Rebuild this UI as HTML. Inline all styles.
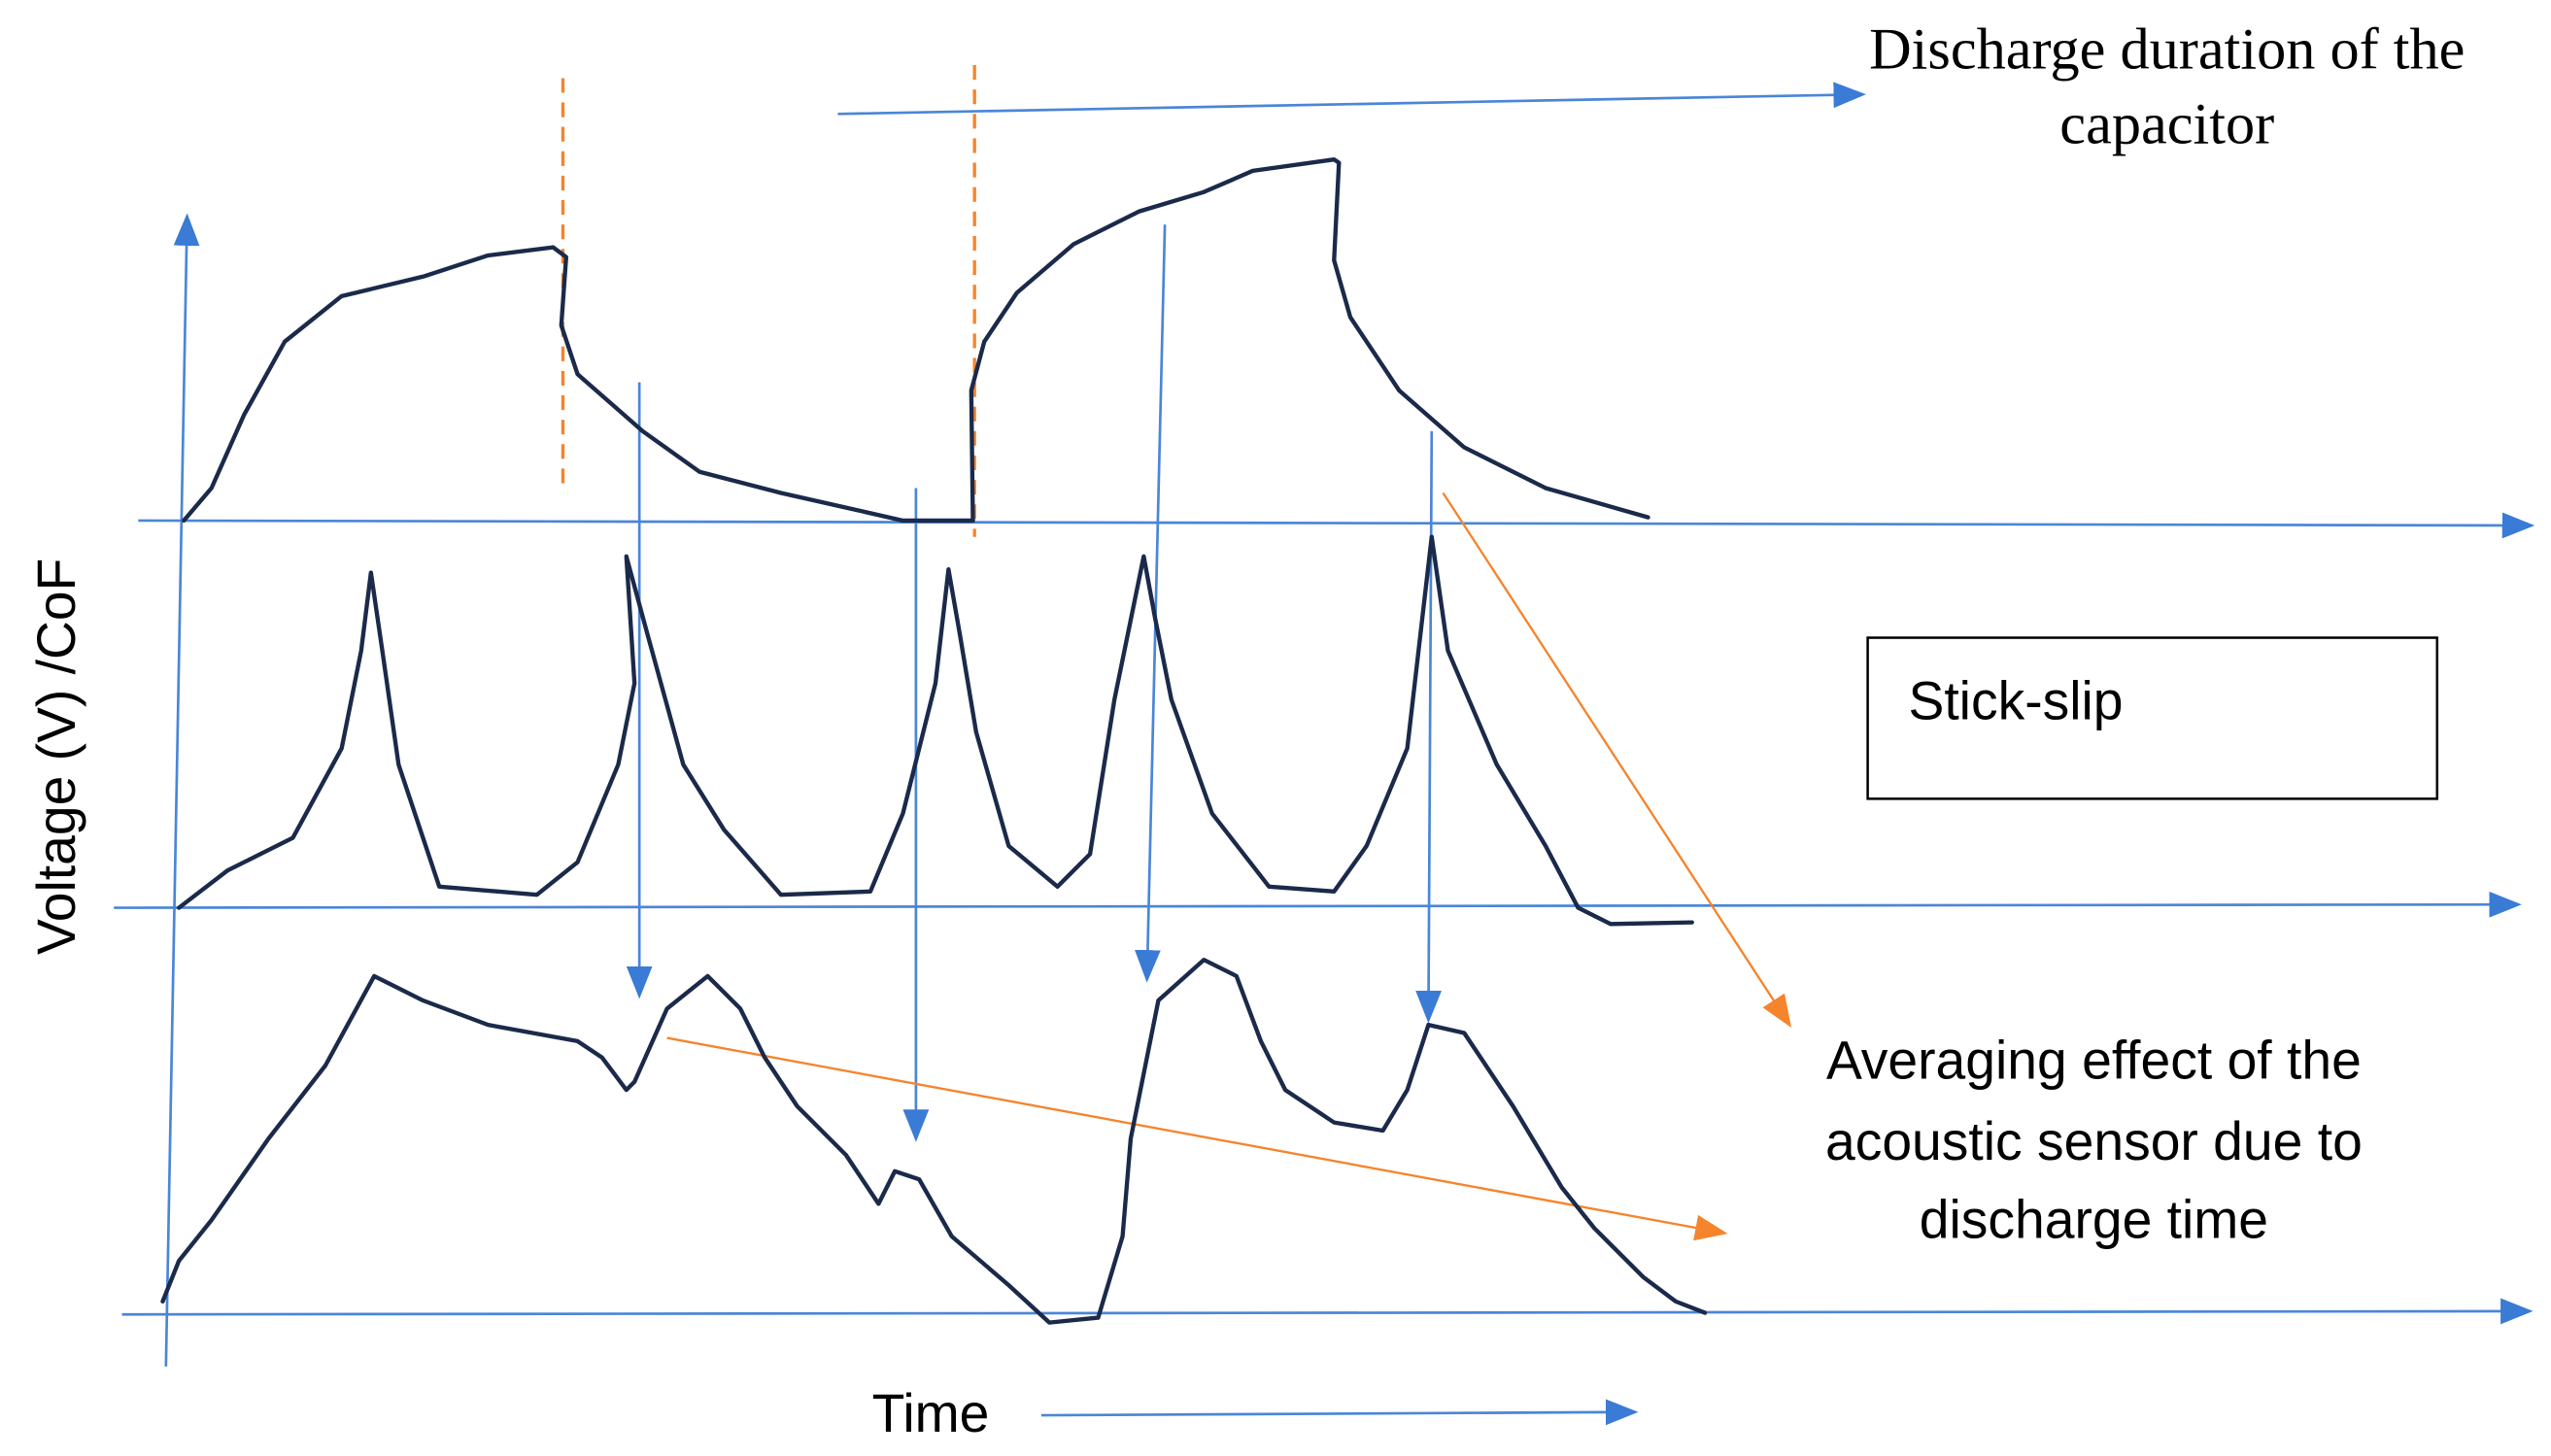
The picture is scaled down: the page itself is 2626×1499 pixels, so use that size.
<!DOCTYPE html>
<html><head><meta charset="utf-8"><style>
html,body{margin:0;padding:0;background:#fff;}
svg{display:block;}
</style></head><body>
<svg width="2626" height="1499" viewBox="0 0 1568 895" xmlns="http://www.w3.org/2000/svg">
<defs>
<marker id="abig" markerWidth="20" markerHeight="16" refX="18" refY="8" orient="auto" markerUnits="userSpaceOnUse"><path d="M0,0 L20,8 L0,16 z" fill="#3a7bd5"/></marker>
<marker id="ao" markerWidth="20" markerHeight="16" refX="18" refY="8" orient="auto" markerUnits="userSpaceOnUse"><path d="M0,0 L20,8 L0,16 z" fill="#f5842c"/></marker>
</defs>
<g stroke="#4a86d8" stroke-width="1.6" fill="none">
<line x1="102" y1="840" x2="115" y2="133" marker-end="url(#abig)"/>
<line x1="85" y1="320" x2="1556" y2="323" marker-end="url(#abig)"/>
<line x1="70" y1="558" x2="1548" y2="556" marker-end="url(#abig)"/>
<line x1="75" y1="808" x2="1555" y2="806" marker-end="url(#abig)"/>
<line x1="515" y1="70" x2="1145" y2="58" marker-end="url(#abig)"/>
<line x1="640" y1="870" x2="1005" y2="868" marker-end="url(#abig)"/>
<line x1="393" y1="235" x2="393" y2="612" marker-end="url(#abig)"/>
<line x1="563" y1="300" x2="563" y2="700" marker-end="url(#abig)"/>
<line x1="716" y1="138" x2="705" y2="602" marker-end="url(#abig)"/>
<line x1="880" y1="265" x2="878" y2="627" marker-end="url(#abig)"/>
</g>
<g stroke="#f5842c" stroke-width="2" fill="none">
<line x1="346" y1="48" x2="346" y2="300" stroke-dasharray="9,6"/>
<line x1="599" y1="40" x2="599" y2="330" stroke-dasharray="9,6"/>
<line x1="887" y1="303" x2="1100" y2="630" stroke-width="1.4" marker-end="url(#ao)"/>
<line x1="410" y1="638" x2="1060" y2="758" stroke-width="1.4" marker-end="url(#ao)"/>
</g>
<g stroke="#1b2a4a" stroke-width="2.6" fill="none" stroke-linejoin="round" stroke-linecap="round">
<polyline points="113,320 130,300 150,255 175,210 210,182 260,170 300,157 340,152 348,158 345,200 355,230 395,265 430,290 480,303 520,312 555,320 598,320"/>
<polyline points="598,320 597,240 605,210 625,180 660,150 700,130 740,118 770,105 820,98 823,100 820,160 830,195 860,240 900,275 950,300 1013,318"/>
<polyline points="110,558 140,535 180,515 210,460 222,400 228,352 235,400 245,470 270,545 330,550 355,530 380,470 390,420 385,342 398,390 420,470 445,510 480,550 535,548 555,500 575,420 583,350 590,390 600,450 620,520 650,545 670,525 685,430 703,342 710,380 720,430 745,500 780,545 820,548 840,520 865,460 880,330 890,400 920,470 950,520 970,558 990,568 1040,567"/>
<polyline points="100,800 110,775 130,750 165,700 200,655 230,600 260,615 300,630 355,640 370,650 385,670 390,665 410,620 435,600 455,620 470,650 490,680 520,710 540,740 550,720 565,725 585,760 620,790 645,813 675,810 690,760 695,700 712,615 740,590 760,600 775,640 790,670 820,690 850,695 865,670 878,630 900,635 930,680 960,730 980,755 1010,785 1030,800 1048,807"/>
</g>
<rect x="1148" y="392" width="350" height="99" fill="none" stroke="#000" stroke-width="1.5"/>
<g font-family="Liberation Sans, sans-serif" font-size="33" fill="#000">
<text x="1173" y="442">Stick-slip</text>
<text x="1287" y="663" text-anchor="middle">Averaging effect of the</text>
<text x="1287" y="713" text-anchor="middle">acoustic sensor due to</text>
<text x="1287" y="761" text-anchor="middle">discharge time</text>
<text x="536" y="880">Time</text>
<text transform="translate(46,465) rotate(-90)" text-anchor="middle">Voltage (V) /CoF</text>
</g>
<g font-family="Liberation Serif, serif" font-size="36" fill="#000" text-anchor="middle">
<text x="1332" y="42">Discharge duration of the</text>
<text x="1332" y="88">capacitor</text>
</g>
</svg>
</body></html>
